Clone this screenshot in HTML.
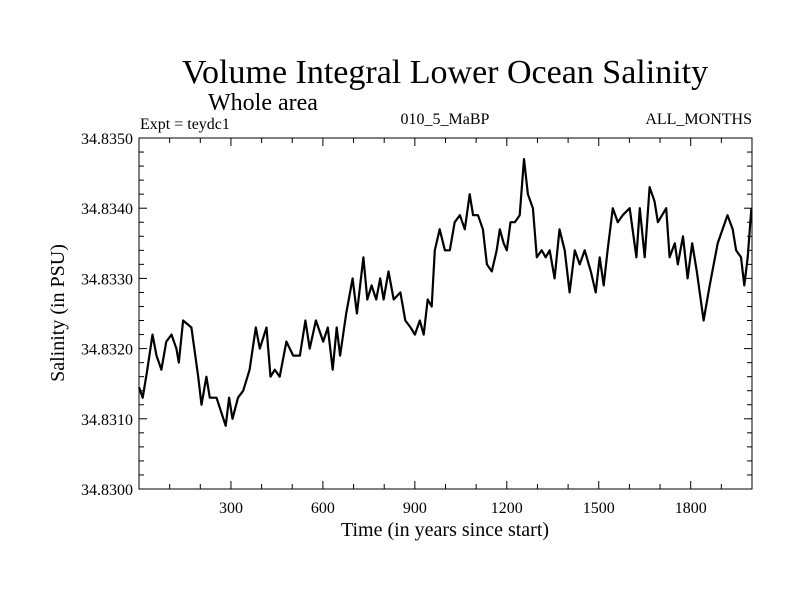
<!DOCTYPE html>
<html><head><meta charset="utf-8"><style>
body{margin:0;background:#fff;}
svg{display:block;font-family:"Liberation Serif",serif;}
</style></head><body>
<svg id="chart" width="800" height="600">
<text x="445" y="83" font-size="34" text-anchor="middle">Volume Integral Lower Ocean Salinity</text>
<text x="263" y="110" font-size="24" text-anchor="middle">Whole area</text>
<text x="140" y="129" font-size="16">Expt = teydc1</text>
<text x="445" y="124" font-size="16" text-anchor="middle">010_5_MaBP</text>
<text x="752" y="124" font-size="16" text-anchor="end">ALL_MONTHS</text>
<text x="445" y="536" font-size="20" text-anchor="middle">Time (in years since start)</text>
<text x="0" y="0" font-size="20" text-anchor="middle" transform="translate(64,313) rotate(-90)">Salinity (in PSU)</text>
<g id="axes"></g>
<path id="series" fill="none" stroke="#000" stroke-width="2.2" stroke-linejoin="round"/>
<rect x="139" y="138" width="613" height="351" fill="none" stroke="#000" stroke-width="1"/>
</svg>
<script>
const years=[0,12,27,44,57,73,89,106,122,130,144,171,193,204,220,231,253,283,294,305,323,340,361,381,394,416,429,443,459,481,503,525,543,557,577,601,616,632,645,656,676,697,711,732,745,759,774,787,798,814,831,853,869,886,900,916,929,942,955,965,981,998,1014,1030,1047,1063,1079,1090,1106,1122,1135,1151,1167,1177,1190,1200,1212,1226,1242,1256,1269,1285,1298,1314,1327,1340,1356,1372,1389,1405,1422,1438,1454,1474,1490,1503,1516,1529,1546,1562,1578,1601,1623,1634,1650,1666,1682,1693,1720,1731,1748,1758,1775,1790,1805,1820,1842,1862,1888,1904,1920,1937,1948,1964,1975,1986,1998];
const salinity=[34.83145,34.8313,34.8317,34.8322,34.8319,34.8317,34.8321,34.8322,34.8320,34.8318,34.8324,34.8323,34.8316,34.8312,34.8316,34.8313,34.8313,34.8309,34.8313,34.8310,34.8313,34.8314,34.8317,34.8323,34.8320,34.8323,34.8316,34.8317,34.8316,34.8321,34.8319,34.8319,34.8324,34.8320,34.8324,34.8321,34.8323,34.8317,34.8323,34.8319,34.8325,34.8330,34.8325,34.8333,34.8327,34.8329,34.8327,34.8330,34.8327,34.8331,34.8327,34.8328,34.8324,34.8323,34.8322,34.8324,34.8322,34.8327,34.8326,34.8334,34.8337,34.8334,34.8334,34.8338,34.8339,34.8337,34.8342,34.8339,34.8339,34.8337,34.8332,34.8331,34.8334,34.8337,34.8335,34.8334,34.8338,34.8338,34.8339,34.8347,34.8342,34.8340,34.8333,34.8334,34.8333,34.8334,34.8330,34.8337,34.8334,34.8328,34.8334,34.8332,34.8334,34.8331,34.8328,34.8333,34.8329,34.8334,34.8340,34.8338,34.8339,34.8340,34.8333,34.8340,34.8333,34.8343,34.8341,34.8338,34.8340,34.8333,34.8335,34.8332,34.8336,34.8330,34.8335,34.8331,34.8324,34.8329,34.8335,34.8337,34.8339,34.8337,34.8334,34.8333,34.8329,34.8333,34.8340];
const xTicks=[300,600,900,1200,1500,1800];
const yTicks=[34.830,34.831,34.832,34.833,34.834,34.835];
const yTickLabels=["34.8300","34.8310","34.8320","34.8330","34.8340","34.8350"];
const X0=139,X1=752,Y0=489,Y1=138,xMin=0,xMax=2000,yMin=34.830,yMax=34.835;
const sx=v=>X0+(v-xMin)/(xMax-xMin)*(X1-X0);
const sy=v=>Y0-(v-yMin)/(yMax-yMin)*(Y0-Y1);
const NS='http://www.w3.org/2000/svg';
const axes=document.getElementById('axes');
function line(x1,y1,x2,y2,name){
  const l=document.createElementNS(NS,'line');
  l.setAttribute('x1',x1);l.setAttribute('y1',y1);l.setAttribute('x2',x2);l.setAttribute('y2',y2);
  l.setAttribute('stroke','#000');l.setAttribute('stroke-width','1');
  
  
  axes.appendChild(l);
}
function text(x,y,s,anchor,name){
  const t=document.createElementNS(NS,'text');
  t.setAttribute('x',x);t.setAttribute('y',y);t.setAttribute('font-size','16');t.setAttribute('text-anchor',anchor);
  t.textContent=s;
  
  
  axes.appendChild(t);
}
for(let v=100;v<xMax;v+=100){
  const major=v%300===0,len=major?8:5,x=sx(v);
  line(x,Y0,x,Y0-len,'x-tick');
  line(x,Y1,x,Y1+len,'x-tick-top');
}
xTicks.forEach(v=>text(sx(v),513,String(v),'middle','x-tick-label'));
for(let i=1;i<25;i++){
  const v=yMin+i*0.0002,major=i%5===0,len=major?8:5,y=sy(v);
  line(X0,y,X0+len,y,'y-tick');
  line(X1,y,X1-len,y,'y-tick-right');
}
yTicks.forEach((v,i)=>text(133,sy(v)+6,yTickLabels[i],'end','y-tick-label'));
let d='';
years.forEach((yr,i)=>{d+=(i?'L':'M')+sx(yr).toFixed(1)+','+sy(salinity[i]).toFixed(1);});
document.getElementById('series').setAttribute('d',d);
</script>
</body></html>
